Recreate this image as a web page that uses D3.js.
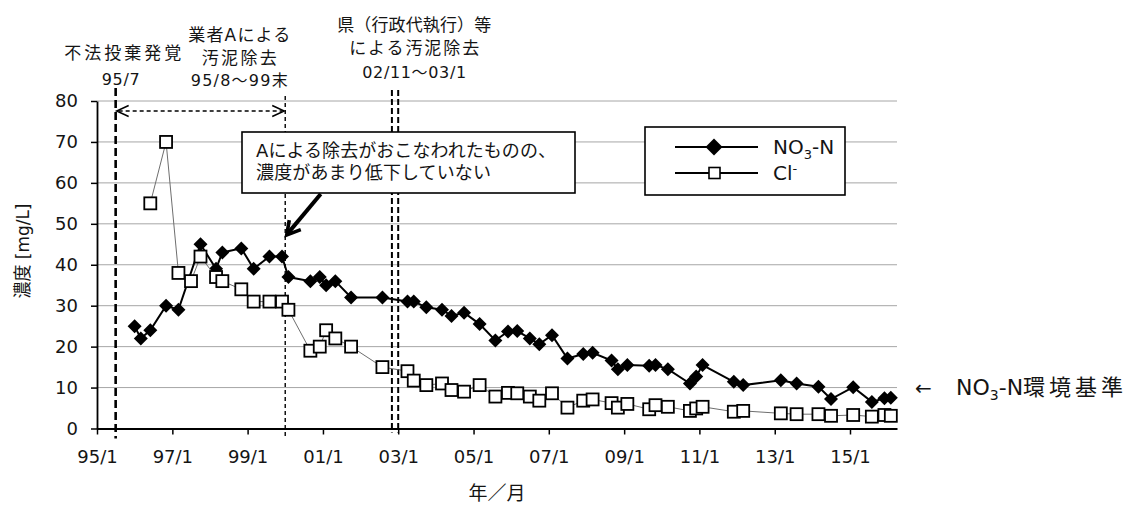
<!DOCTYPE html>
<html>
<head>
<meta charset="utf-8">
<script src="https://cdn.jsdelivr.net/npm/d3@7"></script>
<style>
  body { margin: 0; background: #fff; }
  svg { display: block; }
  text { font-family: "DejaVu Sans", "Noto Sans CJK JP", sans-serif; fill: #141414; }
</style>
</head>
<body>
<svg id="chart" width="1127" height="508"></svg>
<script>
// Sampling month (year-month) and concentration [mg/L] for each series
const no3Dates = ["1996-01","1996-03","1996-06","1996-11","1997-03","1997-10","1998-03","1998-05","1998-11","1999-03",
  "1999-08","1999-12","2000-02","2000-09","2000-12","2001-02","2001-05","2001-10","2002-08","2003-04",
  "2003-06","2003-10","2004-03","2004-06","2004-10","2005-03","2005-08","2005-12","2006-03","2006-07",
  "2006-10","2007-02","2007-07","2007-12","2008-03","2008-09","2008-11","2009-02","2009-09","2009-11",
  "2010-03","2010-10","2010-12","2011-02","2011-12","2012-03","2013-03","2013-08","2014-03","2014-07",
  "2015-02","2015-08","2015-12","2016-02"];
const no3Values = [25,22,24,30,29,45,39,43,44,39,
  42,42,37,36,37,35,36,32,32,31,
  31,29.6,29,27.5,28.3,25.5,21.5,23.7,23.8,22,
  20.6,22.8,17.1,18.2,18.5,16.6,14.5,15.5,15.3,15.5,
  14.5,11,12.7,15.5,11.4,10.6,11.8,11,10.2,7.2,
  10.1,6.5,7.4,7.5];

const clDates = ["1996-06","1996-11","1997-03","1997-07","1997-10","1998-03","1998-05","1998-11","1999-03","1999-08",
  "1999-12","2000-02","2000-09","2000-12","2001-02","2001-05","2001-10","2002-08","2003-04","2003-06",
  "2003-10","2004-03","2004-06","2004-10","2005-03","2005-08","2005-12","2006-03","2006-07","2006-10",
  "2007-02","2007-07","2007-12","2008-03","2008-09","2008-11","2009-02","2009-09","2009-11","2010-03",
  "2010-10","2010-12","2011-02","2011-12","2012-03","2013-03","2013-08","2014-03","2014-07","2015-02",
  "2015-08","2015-12","2016-02"];
const clValues = [55,70,38,36,42,37,36,34,31,31,
  31,29,19,20,24,22,20,15,14,11.7,
  10.6,11,9.4,9,10.6,7.8,8.7,8.6,7.8,6.8,
  8.6,5.1,6.8,7.1,6.2,5.1,6.0,4.7,5.7,5.3,
  4.3,4.9,5.3,4.1,4.3,3.7,3.5,3.5,3.1,3.3,
  2.9,3.3,3.1];

// Axis ticks
const yTicks = [0,10,20,30,40,50,60,70,80];
const xTickDates = ["1995-01","1997-01","1999-01","2001-01","2003-01","2005-01","2007-01","2009-01","2011-01","2013-01","2015-01"];
const xTickLabels = ["95/1","97/1","99/1","01/1","03/1","05/1","07/1","09/1","11/1","13/1","15/1"];

// Key events
const discoveryDate = "1995-07";
const contractorEndDate = "2000-01";
const prefectureStartDate = "2002-11";
const prefectureEndDate = "2003-01";
const standardValue = 10;

const parse = d3.timeParse("%Y-%m");
const svg = d3.select("#chart");

const x = d3.scaleTime()
  .domain([parse("1995-01"), parse("2016-04")])
  .range([97, 897]);
const y = d3.scaleLinear().domain([0, 80]).range([428.5, 101]);

const no3 = no3Dates.map((d, i) => ({ date: parse(d), value: no3Values[i] }));
const cl = clDates.map((d, i) => ({ date: parse(d), value: clValues[i] }));

// Horizontal gridlines
svg.append("g").selectAll("line")
  .data(yTicks.filter(v => v > 0))
  .join("line")
  .attr("x1", x.range()[0]).attr("x2", x.range()[1])
  .attr("y1", d => y(d)).attr("y2", d => y(d))
  .attr("stroke", "#a6a6a6").attr("stroke-width", 1);

// Event markers (vertical dashed lines)
const vlines = svg.append("g");
function vline(dateStr, yTop, yBottom, width, dash) {
  const xp = x(parse(dateStr));
  vlines.append("line")
    .attr("x1", xp).attr("x2", xp)
    .attr("y1", yTop).attr("y2", yBottom)
    .attr("stroke", "#000").attr("stroke-width", width)
    .attr("stroke-dasharray", dash);
}
vline(discoveryDate, y(80) - 13, y(0) + 10, 2.6, "8,4");
vline(contractorEndDate, y(80) - 5, y(0) + 10, 1.4, "4,3");
vline(prefectureStartDate, y(80) - 11, y(0) + 4, 2, "6,3");
vline(prefectureEndDate, y(80) - 11, y(0) + 4, 2, "6,3");

// Double-headed arrow: contractor removal period
{
  const x1 = x(parse(discoveryDate)) + 1, x2 = x(parse(contractorEndDate)) - 1;
  const ya = y(80) + 10;
  const g = svg.append("g").attr("stroke", "#000").attr("fill", "none");
  g.append("line").attr("x1", x1 + 2).attr("x2", x2 - 2).attr("y1", ya).attr("y2", ya)
    .attr("stroke-width", 1.5).attr("stroke-dasharray", "4,3");
  g.append("path").attr("d", `M${x1 + 12},${ya - 5.5}L${x1},${ya}L${x1 + 12},${ya + 5.5}`).attr("stroke-width", 1.5);
  g.append("path").attr("d", `M${x2 - 12},${ya - 5.5}L${x2},${ya}L${x2 - 12},${ya + 5.5}`).attr("stroke-width", 1.5);
}

// Series: NO3-N
const line = d3.line().x(d => x(d.date)).y(d => y(d.value));
svg.append("path").datum(no3)
  .attr("d", line).attr("fill", "none")
  .attr("stroke", "#000").attr("stroke-width", 2);
const diamond = r => `M0,${-r}L${r},0L0,${r}L${-r},0Z`;
svg.append("g").selectAll("path")
  .data(no3).join("path")
  .attr("d", diamond(7))
  .attr("transform", d => `translate(${x(d.date)},${y(d.value)})`)
  .attr("fill", "#000");

// Series: Cl-
svg.append("path").datum(cl)
  .attr("d", line).attr("fill", "none")
  .attr("stroke", "#6e6e6e").attr("stroke-width", 1);
const sq = 12;
svg.append("g").selectAll("rect")
  .data(cl).join("rect")
  .attr("x", d => x(d.date) - sq / 2).attr("y", d => y(d.value) - sq / 2)
  .attr("width", sq).attr("height", sq)
  .attr("fill", "#fff").attr("stroke", "#000").attr("stroke-width", 1.8);

// Axes
const xAxis = d3.axisBottom(x)
  .tickValues(xTickDates.map(parse))
  .tickFormat((d, i) => xTickLabels[i])
  .tickSize(6).tickSizeOuter(0).tickPadding(16);
const yAxis = d3.axisLeft(y)
  .tickValues(yTicks)
  .tickSize(6).tickSizeOuter(0).tickPadding(13);

const gx = svg.append("g").attr("transform", `translate(0,${y(0)})`).call(xAxis);
const gy = svg.append("g").attr("transform", `translate(${x.range()[0]},0)`).call(yAxis);
[gx, gy].forEach(g => {
  g.select(".domain").attr("stroke", "#000").attr("stroke-width", 1.8);
  g.selectAll(".tick line").attr("stroke", "#000").attr("stroke-width", 1.5);
  g.selectAll(".tick text")
    .attr("font-family", "'DejaVu Sans', sans-serif")
    .attr("font-size", 18).attr("fill", "#141414");
});

// Axis titles
svg.append("text")
  .attr("transform", `translate(29,251) rotate(-90)`)
  .attr("text-anchor", "middle")
  .attr("font-size", 18)
  .attr("textLength", 95).attr("lengthAdjust", "spacingAndGlyphs")
  .text("濃度 [mg/L]");
svg.append("text")
  .attr("x", (x.range()[0] + x.range()[1]) / 2).attr("y", 500)
  .attr("text-anchor", "middle")
  .attr("font-size", 19)
  .text("年／月");

// Annotation labels above the plot
function note(str, cx, base, width, size) {
  svg.append("text")
    .attr("x", cx).attr("y", base)
    .attr("text-anchor", "middle")
    .attr("font-size", size)
    .attr("textLength", width).attr("lengthAdjust", "spacing")
    .text(str);
}
const xDisc = x(parse(discoveryDate)) + 7;
note("不法投棄発覚", xDisc, 59, 117, 17);
note("95/7", xDisc - 2, 85, 38, 16);
const xCont = x(parse(contractorEndDate)) - 46;
note("業者Aによる", xCont, 41, 102, 17);
note("汚泥除去", xCont, 64, 75, 17);
note("95/8～99末", xCont, 86, 97, 16);
const xPref = x(parse(prefectureEndDate)) + 16;
note("県（行政代執行）等", xPref, 31, 154, 17);
note("による汚泥除去", xPref, 54, 130, 17);
note("02/11～03/1", xPref, 78, 104, 16);

// Callout box with arrow
{
  const bx = 242, by = 132, bw = 333, bh = 61;
  svg.append("rect").attr("x", bx).attr("y", by).attr("width", bw).attr("height", bh)
    .attr("fill", "#fff").attr("stroke", "#000").attr("stroke-width", 1.6);
  svg.append("text").attr("x", bx + 14).attr("y", by + 25)
    .attr("font-size", 18).attr("textLength", 300).attr("lengthAdjust", "spacing")
    .text("Aによる除去がおこなわれたものの、");
  svg.append("text").attr("x", bx + 14).attr("y", by + 47)
    .attr("font-size", 18).attr("textLength", 235).attr("lengthAdjust", "spacing")
    .text("濃度があまり低下していない");

  const tip = [x(parse(contractorEndDate)) + 1.5, y(47.3)];
  const tail = [tip[0] + 34, by + bh + 1];
  const ang = Math.atan2(tail[1] - tip[1], tail[0] - tip[0]);
  const L = 15, spread = Math.PI / 6;
  const a1 = [tip[0] + L * Math.cos(ang - spread), tip[1] + L * Math.sin(ang - spread)];
  const a2 = [tip[0] + L * Math.cos(ang + spread), tip[1] + L * Math.sin(ang + spread)];
  svg.append("line").attr("x1", tail[0]).attr("y1", tail[1]).attr("x2", tip[0] + 1.5).attr("y2", tip[1] - 2)
    .attr("stroke", "#000").attr("stroke-width", 4);
  svg.append("path").attr("d", `M${a1}L${tip}L${a2}`)
    .attr("fill", "none").attr("stroke", "#000").attr("stroke-width", 3.6).attr("stroke-linejoin", "miter");
}

// Legend
{
  const lx = 645, ly = 127, lw = 200, lh = 68;
  const g = svg.append("g");
  g.append("rect").attr("x", lx).attr("y", ly).attr("width", lw).attr("height", lh)
    .attr("fill", "#fff").attr("stroke", "#000").attr("stroke-width", 1.6);
  const rows = [ly + 20, ly + 46];
  rows.forEach(ry => g.append("line").attr("x1", lx + 30).attr("x2", lx + 113)
    .attr("y1", ry).attr("y2", ry).attr("stroke", "#000").attr("stroke-width", 1.8));
  g.append("path").attr("d", diamond(8.5)).attr("transform", `translate(${lx + 69},${rows[0]})`).attr("fill", "#000");
  g.append("rect").attr("x", lx + 64).attr("y", rows[1] - 5.5).attr("width", 11).attr("height", 11)
    .attr("fill", "#fff").attr("stroke", "#000").attr("stroke-width", 1.6);
  const t1 = g.append("text").attr("x", lx + 128).attr("y", rows[0] + 7)
    .attr("font-family", "Roboto, sans-serif").attr("font-size", 20);
  t1.append("tspan").text("NO");
  t1.append("tspan").attr("dy", 5).attr("font-size", 13).text("3");
  t1.append("tspan").attr("dy", -5).text("-N");
  const t2 = g.append("text").attr("x", lx + 128).attr("y", rows[1] + 7)
    .attr("font-family", "Roboto, sans-serif").attr("font-size", 20);
  t2.append("tspan").text("Cl");
  t2.append("tspan").attr("dy", -7).attr("font-size", 13).text("-");
}

// Environmental standard label
{
  const ys = y(standardValue);
  svg.append("text").attr("x", 915).attr("y", ys + 7)
    .attr("font-family", "'Noto Sans CJK JP', sans-serif").attr("font-size", 20).text("←");
  const t = svg.append("text").attr("x", 956).attr("y", ys + 7)
    .attr("font-family", "Roboto, 'Noto Sans CJK JP', sans-serif").attr("font-size", 22);
  t.append("tspan").text("NO");
  t.append("tspan").attr("dy", 5).attr("font-size", 14).text("3");
  t.append("tspan").attr("dy", -5).text("-N");
  t.append("tspan").attr("letter-spacing", 4).text("環境基準");
}
</script>
</body>
</html>
